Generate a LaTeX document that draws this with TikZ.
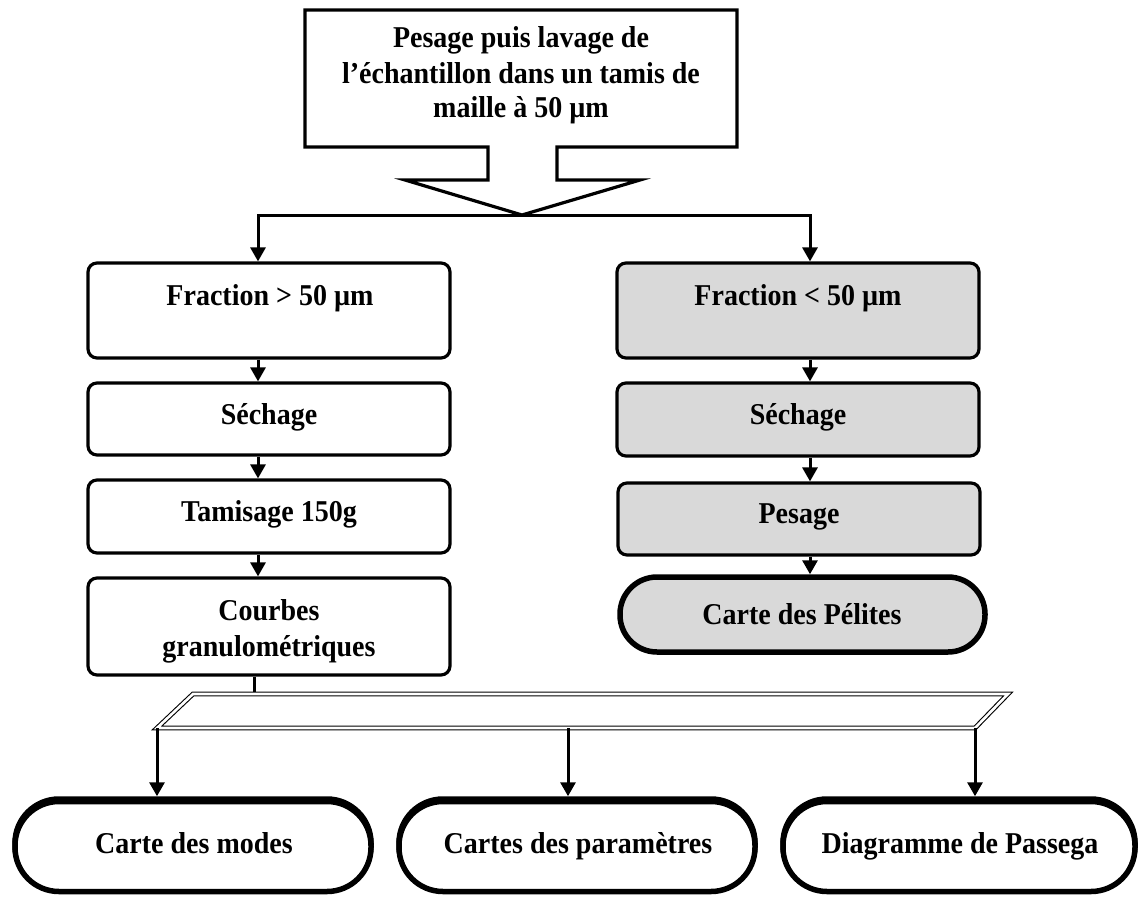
\documentclass[tikz,border=0pt]{standalone}
\usepackage{fontspec}
\setmainfont{Liberation Serif}
\usetikzlibrary{arrows.meta}
\newcommand{\vstretch}[1]{\scalebox{1}[1.08]{#1}}
\begin{document}
\begin{tikzpicture}[x=1pt,y=-1pt,
  box/.style={draw, line width=3.2pt, rounded corners=9pt, minimum width=362pt, inner sep=0pt},
  gbox/.style={box, fill=black!15},
  stad/.style={draw, line width=5.5pt, inner sep=0pt},
  bstad/.style={stad, fill=white, minimum height=90pt, rounded corners=44pt},
  lbl/.style={font=\fontsize{28}{34}\selectfont\bfseries, anchor=base, inner sep=0pt},
  arr/.style={line width=3pt, line join=miter, -{Triangle[length=14pt,width=15pt]}},
  ln/.style={line width=3pt},
  bar/.style={double, double distance=2.6pt, line width=1.1pt, line join=miter},
]
\useasboundingbox (0,0) rectangle (1141,897);

% top callout
\draw[line width=3.2pt, line join=miter] (305,10) -- (737,10) -- (737,147) -- (557,147) -- (557,180) -- (640,180) -- (522,215) -- (405,180) -- (488,180) -- (488,147) -- (305,147) -- cycle;
\coordinate (tip) at (522,215);
\node[lbl] (t1) at (521,47) {\vstretch{Pesage puis lavage de}};
\node[lbl] (t2) at (521,83) {\vstretch{l’échantillon dans un tamis de}};
\node[lbl] (t3) at (521,117) {\vstretch{maille à 50 µm}};

\coordinate (jl) at (258,215);
\coordinate (jr) at (810,215);

% left column
\node[box, minimum height=95pt] (f1) at (269,310.5) {};
\node[box, minimum height=72pt] (s1) at (269,419) {};
\node[box, minimum height=73pt] (ta1) at (269,516.5) {};
\node[box, minimum height=97pt] (c1) at (269,626.5) {};
\node[lbl] (f1t) at (270,305) {\vstretch{Fraction > 50 µm}};
\node[lbl] (s1t) at (269,424) {\vstretch{Séchage}};
\node[lbl] (ta1t) at (269,521) {\vstretch{Tamisage 150g}};
\node[lbl] (c1t) at (269,620) {\vstretch{Courbes}};
\node[lbl] (c1u) at (269,656) {\vstretch{granulométriques}};

% right column
\node[gbox, minimum height=95pt] (f2) at (798,310.5) {};
\node[gbox, minimum height=73pt] (s2) at (798,419.5) {};
\node[gbox, minimum height=72pt] (p2) at (799,519) {};
\node[stad, fill=black!15, minimum width=365pt, minimum height=75pt, rounded corners=37pt] (cp) at (802.5,614.5) {};
\node[lbl] (f2t) at (798,305) {\vstretch{Fraction < 50 µm}};
\node[lbl] (s2t) at (798,424) {\vstretch{Séchage}};
\node[lbl] (p2t) at (799,523) {\vstretch{Pesage}};
\node[lbl] (cpt) at (802,624) {\vstretch{Carte des Pélites}};

% top connectors
\draw[arr] (tip) -| (jl |- f1.north);
\draw[arr] (tip) -| (jr |- f2.north);
\draw[arr] (f1.south -| jl) -- (s1.north -| jl);
\draw[arr] (s1.south -| jl) -- (ta1.north -| jl);
\draw[arr] (ta1.south -| jl) -- (c1.north -| jl);
\draw[arr] (f2.south -| jr) -- (s2.north -| jr);
\draw[arr] (s2.south -| jr) -- (p2.north -| jr);
\draw[arr] (p2.south -| jr) -- (cp.north -| jr);

% bar
\coordinate (bl) at (157,728);
\coordinate (br) at (975,728);
\coordinate (tr) at (1008,694);
\coordinate (tl) at (193,694);
\coordinate (bs) at (254,694);
\draw[ln] (c1.south -| bs) -- (bs);
\draw[bar] (bl) -- (br) -- (tr) -- (tl) -- cycle;

% bottom (thicker top edge drawn by an offset copy)
\node[bstad, minimum width=356pt] (m1s) at (193,844) {};
\node[bstad, minimum width=352pt] (m3s) at (959,844) {};
\node[bstad, minimum width=356pt] (m2s) at (577,844) {};
\node[bstad, minimum width=356pt] (m1) at (193,846.5) {};
\node[bstad, minimum width=356pt] (m2) at (577,846.5) {};
\node[bstad, minimum width=352pt] (m3) at (959,846.5) {};
\node[lbl] (m1t) at (194,853) {\vstretch{Carte des modes}};
\node[lbl] (m2t) at (578,853) {\vstretch{Cartes des paramètres}};
\node[lbl] (m3t) at (960,853) {\vstretch{Diagramme de Passega}};

\coordinate (b2) at (568,728);
\draw[arr] (bl) -- (bl |- m1s.north);
\draw[arr] (b2) -- (b2 |- m2s.north);
\draw[arr] (br) -- (br |- m3s.north);
\end{tikzpicture}
\end{document}
